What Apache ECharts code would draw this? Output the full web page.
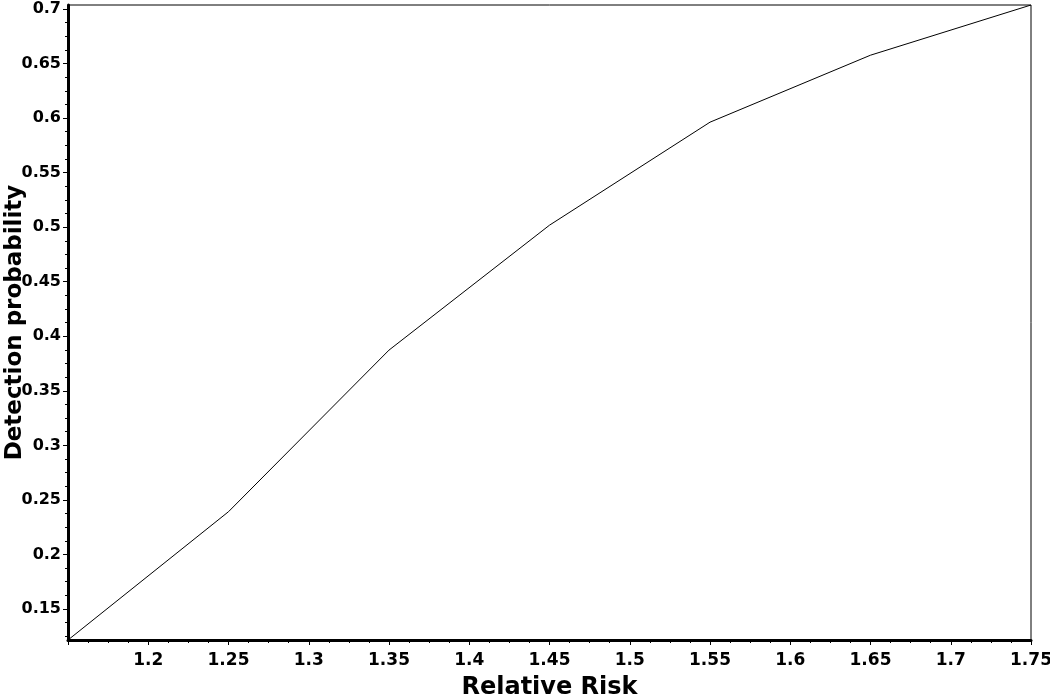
<!DOCTYPE html>
<html>
<head>
<meta charset="utf-8">
<script src="https://cdn.jsdelivr.net/npm/echarts@6/dist/echarts.min.js"></script>
<style>
html,body{margin:0;padding:0;background:#fff;}
#chart{width:1050px;height:697px;}
</style>
</head>
<body>
<div id="chart"></div>
<script>
// Data
const relativeRisk = [1.15, 1.25, 1.35, 1.45, 1.55, 1.65, 1.75];
const detectionProbability = [0.1216, 0.2392, 0.3873, 0.5018, 0.5962, 0.6576, 0.7036];

// Axis ticks
const yMajorTicks = [0.15, 0.2, 0.25, 0.3, 0.35, 0.4, 0.45, 0.5, 0.55, 0.6, 0.65, 0.7];
const yMinorTicks = [0.125, 0.1375, 0.1625, 0.175, 0.1875, 0.2125, 0.225, 0.2375, 0.2625, 0.275, 0.2875,
  0.3125, 0.325, 0.3375, 0.3625, 0.375, 0.3875, 0.4125, 0.425, 0.4375, 0.4625, 0.475, 0.4875,
  0.5125, 0.525, 0.5375, 0.5625, 0.575, 0.5875, 0.6125, 0.625, 0.6375, 0.6625, 0.675, 0.6875];
const xMin = 1.15, xMax = 1.75, xInterval = 0.05;
const yMin = 0.1216, yMax = 0.7036;

const FONT = 'DejaVu Sans';
const chart = echarts.init(document.getElementById('chart'), null, {renderer: 'canvas'});

const points = relativeRisk.map((x, i) => [x, detectionProbability[i]]);

chart.setOption({
  animation: false,
  backgroundColor: '#ffffff',
  grid: {
    left: 68, right: 19, top: 5, bottom: 57,
    containLabel: false,
    outerBoundsMode: 'none',
    show: true, borderColor: '#000', borderWidth: 1, backgroundColor: 'transparent'
  },
  xAxis: {
    type: 'value',
    min: xMin, max: xMax, interval: xInterval,
    name: 'Relative Risk',
    nameLocation: 'middle',
    nameGap: 36,
    nameMoveOverlap: false,
    nameTextStyle: {fontFamily: FONT, fontWeight: 'bold', fontSize: 24, color: '#000'},
    axisLine: {show: true, onZero: false, lineStyle: {color: '#000', width: 3}},
    axisTick: {show: true, inside: false, length: 5, lineStyle: {color: '#000', width: 1}},
    minorTick: {show: true, splitNumber: 4, length: 3, lineStyle: {color: '#000', width: 1}},
    splitLine: {show: false},
    axisLabel: {
      showMinLabel: false, margin: 12,
      fontFamily: FONT, fontWeight: 'bold', fontSize: 17, color: '#000',
      formatter: v => String(Math.round(v * 100) / 100)
    }
  },
  yAxis: [{
    type: 'value',
    min: yMin, max: yMax,
    name: 'Detection probability',
    nameLocation: 'middle',
    nameRotate: 90,
    nameGap: 41,
    nameMoveOverlap: false,
    nameTextStyle: {fontFamily: FONT, fontWeight: 'bold', fontSize: 23, color: '#000'},
    axisLine: {show: true, onZero: false, lineStyle: {color: '#000', width: 3}},
    axisTick: {show: true, inside: false, length: 5, customValues: yMajorTicks, lineStyle: {color: '#000', width: 1}},
    splitLine: {show: false},
    axisLabel: {
      customValues: yMajorTicks, margin: 7,
      fontFamily: FONT, fontWeight: 'bold', fontSize: 16, color: '#000',
      formatter: v => String(Math.round(v * 1000) / 1000)
    }
  }, {
    type: 'value',
    min: yMin, max: yMax,
    position: 'left',
    axisLine: {show: false},
    axisTick: {show: true, inside: false, length: 3, customValues: yMinorTicks, lineStyle: {color: '#000', width: 1}},
    axisLabel: {show: false},
    splitLine: {show: false}
  }],
  series: [{
    type: 'line',
    data: points,
    xAxisIndex: 0, yAxisIndex: 0,
    showSymbol: false,
    symbol: 'none',
    lineStyle: {color: '#000', width: 1},
    silent: true
  }]
});
</script>
</body>
</html>
